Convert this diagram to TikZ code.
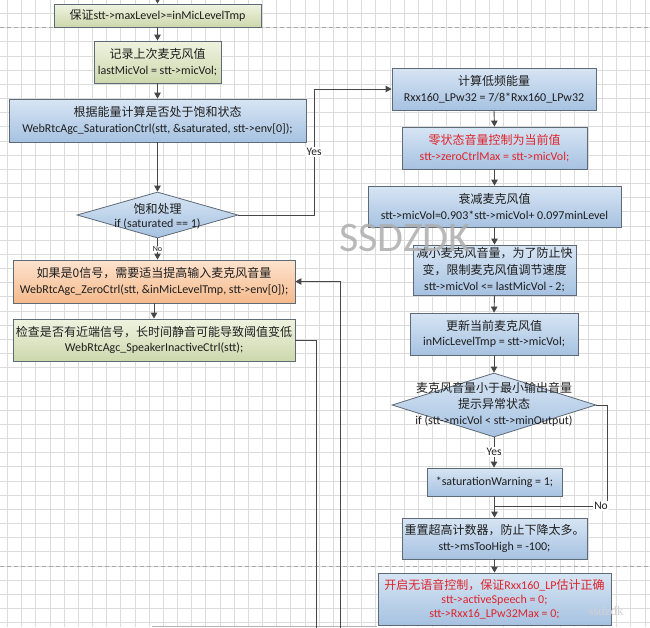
\documentclass[tikz,border=0pt]{standalone}
\usepackage{fontspec}
\setmainfont{Carlito}
\newfontfamily\cjk{Noto Sans CJK SC}
\newfontfamily\wmserif{Liberation Serif}
\usetikzlibrary{shapes.geometric,arrows.meta}
\newcommand{\zh}[1]{{\cjk #1}}
\definecolor{gridc}{HTML}{DCDCDC}
\definecolor{pagec}{HTML}{A8A8A8}
\definecolor{blueT}{HTML}{D7E5F4}
\definecolor{blueB}{HTML}{A6C2E1}
\definecolor{greenT}{HTML}{EFF3E0}
\definecolor{greenB}{HTML}{CDD8AD}
\definecolor{orangeT}{HTML}{FDE3CE}
\definecolor{orangeB}{HTML}{F5B98B}
\definecolor{edgec}{HTML}{5E6A76}
\definecolor{linec}{HTML}{474747}
\definecolor{redt}{HTML}{E0242B}
\definecolor{txt}{HTML}{1E1E1E}
\tikzset{
  box/.style={rectangle, draw=edgec, line width=0.8pt, inner sep=0pt, align=center, text=txt, font=\fontsize{12}{15.5}\selectfont},
  bluebox/.style={box, top color=blueT, bottom color=blueB},
  greenbox/.style={box, top color=greenT, bottom color=greenB},
  orangebox/.style={box, top color=orangeT, bottom color=orangeB},
  dia/.style={diamond, draw=edgec, line width=0.8pt, inner sep=0pt, top color=blueT, bottom color=blueB},
  diatext/.style={align=center, inner sep=0pt, text=txt, font=\fontsize{12}{15.5}\selectfont},
  conn/.style={draw=linec, line width=0.9pt},
  arr/.style={conn, -{Triangle[length=6pt,width=6.5pt]}},
  lab/.style={fill=white, inner sep=1.2pt, text=txt, font=\fontsize{11.5}{13}\selectfont},
  smalllab/.style={fill=white, inner sep=0.6pt, text=txt, font=\fontsize{8}{9}\selectfont}
}
\begin{document}
\begin{tikzpicture}[x=1pt, y=-1pt]
\useasboundingbox (0,0) rectangle (650,627);
\fill[white] (0,0) rectangle (650,627);
% grid
\foreach \i in {0,...,45} { \draw[gridc, line width=0.6pt] ({7.3+14.17*\i},0) -- ({7.3+14.17*\i},627); }
\foreach \j in {0,...,44} { \draw[gridc, line width=0.6pt] (0,{-0.87+14.17*\j}) -- (650,{-0.87+14.17*\j}); }
\draw[pagec, line width=0.7pt, dash pattern=on 4pt off 3pt] (0,27.5) -- (650,27.5);
\draw[pagec, line width=0.7pt, dash pattern=on 4pt off 3pt] (0,566) -- (650,566);
\draw[gray!60, line width=0.8pt] (152,626) -- (377,626);

% left column
\node[greenbox, minimum width=207pt, minimum height=23pt] (b1) at (157.5,15.5) {\zh{保证}stt->maxLevel>=inMicLevelTmp};
\node[greenbox, minimum width=127pt, minimum height=42pt] (b2) at (157.5,62) {\zh{记录上次麦克风值}\\lastMicVol = stt->micVol;};
\node[bluebox, minimum width=297pt, minimum height=43pt] (b3) at (157.5,120.5) {\zh{根据能量计算是否处于饱和状态}\\WebRtcAgc\_SaturationCtrl(stt, \&saturated, stt->env[0]);};
\node[dia, minimum width=161pt, minimum height=46pt] (d1) at (157.5,215) {};
\node[diatext, font=\fontsize{12}{14}\selectfont] (d1t) at (157.5,216) {\zh{饱和处理}\\if (saturated == 1)};
\node[orangebox, minimum width=282pt, minimum height=43pt] (b5) at (154,281.5) {\zh{如果是0信号，需要适当提高输入麦克风音量}\\WebRtcAgc\_ZeroCtrl(stt, \&inMicLevelTmp, stt->env[0]);};
\node[greenbox, minimum width=282pt, minimum height=42pt] (b6) at (154,340) {\zh{检查是否有近端信号，长时间静音可能导致阈值变低}\\WebRtcAgc\_SpeakerInactiveCtrl(stt);};

% right column
\node[bluebox, minimum width=204pt, minimum height=42pt] (b7) at (494,89) {\zh{计算低频能量}\\Rxx160\_LPw32 = 7/8*Rxx160\_LPw32};
\node[bluebox, minimum width=185pt, minimum height=42pt, text=redt] (b8) at (494.5,148) {\zh{零状态音量控制为当前值}\\stt->zeroCtrlMax = stt->micVol;};
\node[bluebox, minimum width=253pt, minimum height=41pt] (b9) at (494.5,206.5) {\zh{衰减麦克风值}\\stt->micVol=0.903*stt->micVol+ 0.097minLevel};
\node[bluebox, minimum width=163pt, minimum height=50pt, font=\fontsize{12}{16.5}\selectfont] (b10) at (494.5,270) {\zh{减小麦克风音量，为了防止快}\\\zh{变，限制麦克风值调节速度}\\stt->micVol <= lastMicVol - 2;};
\node[bluebox, minimum width=168pt, minimum height=42pt] (b11) at (494,334) {\zh{更新当前麦克风值}\\inMicLevelTmp = stt->micVol;};
\node[dia, minimum width=204pt, minimum height=64pt] (d2) at (494,405) {};
\node[diatext, font=\fontsize{12}{16}\selectfont] (d2t) at (494,404) {\zh{麦克风音量小于最小输出音量}\\\zh{提示异常状态}\\if (stt->micVol < stt->minOutput)};
\node[bluebox, minimum width=135pt, minimum height=28pt] (b13) at (494.5,482) {*saturationWarning = 1;};
\node[bluebox, minimum width=185pt, minimum height=41pt] (b14) at (494.5,538.5) {\zh{重置超高计数器，防止下降太多。}\\stt->msTooHigh = -100;};
\node[bluebox, minimum width=233pt, minimum height=52pt, text=redt, font=\fontsize{12}{14.2}\selectfont] (b15) at (494.5,599) {\zh{开启无语音控制，保证}Rxx160\_LP\zh{估计正确}\\stt->activeSpeech = 0;\\stt->Rxx16\_LPw32Max = 0;};

% connectors left
\coordinate (start) at (157.5,-3);
\draw[arr] (start) -- (b1.north);
\draw[arr] (b1.south) -- (b2.north);
\draw[arr] (b2.south) -- (b3.north);
\draw[arr] (b3.south) -- (d1.north);
\draw[arr] (d1.south) -- (d1.south |- b5.north);
\node[smalllab] (nolab1) at (157.5,249) {No};
\draw[arr] (b5.south) -- (b6.north);
\coordinate (ycorner) at (314,89);
\draw[arr] (d1.east) -| (ycorner) -- (b7.west);
\node[lab] (yeslab1) at (314,152) {Yes};
\coordinate (out1) at (316,630);
\draw[conn] (b6.east) -| (out1);
\coordinate (in1) at (340,630);
\draw[arr] (in1) |- (b5.east);

% connectors right
\draw[arr] (b7.south) -- (b8.north);
\draw[arr] (b8.south) -- (b9.north);
\draw[arr] (b9.south) -- (b10.north);
\draw[arr] (b10.south) -- (b11.north);
\draw[arr] (b11.south) -- (d2.north);
\draw[arr] (d2.south) -- (d2.south |- b13.north);
\node[lab] (yeslab2) at (494,452) {Yes};
\draw[arr] (b13.south) -- (b14.north);
\coordinate (ncorner) at (607,506);
\coordinate (njoin) at (494.5,506);
\draw[conn] (d2.east) -| (ncorner) -- (njoin);
\node[lab] (nolab2) at (601,506) {No};
\draw[arr] (b14.south) -- (b15.north);

% watermarks
\node[text=black!32, opacity=0.85, font=\fontsize{42}{42}\selectfont, inner sep=0pt] (wm) at (405,238) {SSDZDK};
\node[text=black!18, font=\wmserif\fontsize{13}{13}\selectfont, inner sep=0pt] (wm2) at (606,611) {ssdzdk};
\end{tikzpicture}
\end{document}
